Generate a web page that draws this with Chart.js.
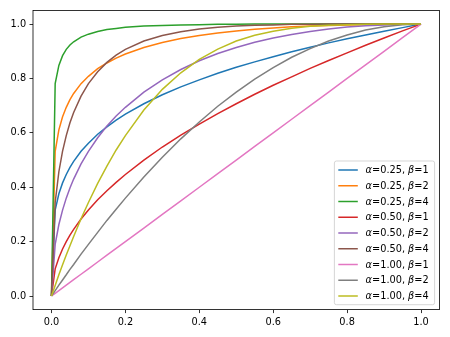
<!DOCTYPE html>
<html>
<head>
<meta charset="utf-8">
<script src="https://cdn.jsdelivr.net/npm/chart.js@4"></script>
<style>
html, body { margin: 0; padding: 0; background: #fff; }
canvas { display: block; }
</style>
</head>
<body>
<canvas id="chart" width="450" height="337"></canvas>
<script>
'use strict';

// x positions shared by every curve
const xValues = [0, 0.01, 0.02, 0.03, 0.04, 0.05, 0.06, 0.08, 0.1, 0.125, 0.15, 0.175, 0.2, 0.25, 0.3, 0.35, 0.4,
    0.45, 0.5, 0.55, 0.6, 0.65, 0.7, 0.75, 0.8, 0.85, 0.9, 0.95, 1];

// one list per curve
const a025b1 = [0, 0.316, 0.376, 0.416, 0.447, 0.473, 0.495, 0.532, 0.562, 0.595, 0.622, 0.647, 0.669, 0.707, 0.740, 0.769, 0.795,
    0.819, 0.841, 0.861, 0.880, 0.898, 0.915, 0.931, 0.946, 0.960, 0.974, 0.987, 1];
const a025b2 = [0, 0.532, 0.611, 0.659, 0.694, 0.722, 0.745, 0.781, 0.808, 0.836, 0.857, 0.875, 0.890, 0.914, 0.932, 0.947, 0.958,
    0.967, 0.975, 0.981, 0.986, 0.990, 0.993, 0.995, 0.997, 0.998, 0.999, 1.000, 1];
const a025b4 = [0, 0.781, 0.848, 0.884, 0.907, 0.923, 0.935, 0.952, 0.963, 0.973, 0.980, 0.984, 0.988, 0.993, 0.995, 0.997, 0.998,
    0.999, 0.999, 1.000, 1.000, 1.000, 1.000, 1.000, 1.000, 1.000, 1.000, 1.000, 1];
const a050b1 = [0, 0.100, 0.141, 0.173, 0.200, 0.224, 0.245, 0.283, 0.316, 0.354, 0.387, 0.418, 0.447, 0.500, 0.548, 0.592, 0.632,
    0.671, 0.707, 0.742, 0.775, 0.806, 0.837, 0.866, 0.894, 0.922, 0.949, 0.975, 1];
const a050b2 = [0, 0.190, 0.263, 0.316, 0.360, 0.397, 0.430, 0.486, 0.532, 0.582, 0.625, 0.662, 0.694, 0.750, 0.795, 0.833, 0.865,
    0.892, 0.914, 0.933, 0.949, 0.962, 0.973, 0.982, 0.989, 0.994, 0.997, 0.999, 1];
const a050b4 = [0, 0.344, 0.457, 0.533, 0.590, 0.637, 0.675, 0.735, 0.781, 0.825, 0.859, 0.886, 0.907, 0.938, 0.958, 0.972, 0.982,
    0.988, 0.993, 0.996, 0.997, 0.999, 0.999, 1.000, 1.000, 1.000, 1.000, 1.000, 1];
const a100b1 = [0, 0.01, 0.02, 0.03, 0.04, 0.05, 0.06, 0.08, 0.1, 0.125, 0.15, 0.175, 0.2, 0.25, 0.3, 0.35, 0.4,
    0.45, 0.5, 0.55, 0.6, 0.65, 0.7, 0.75, 0.8, 0.85, 0.9, 0.95, 1];
const a100b2 = [0, 0.020, 0.040, 0.059, 0.078, 0.098, 0.116, 0.154, 0.190, 0.234, 0.278, 0.319, 0.360, 0.438, 0.510, 0.578, 0.640,
    0.698, 0.750, 0.798, 0.840, 0.878, 0.910, 0.938, 0.960, 0.978, 0.990, 0.998, 1];
const a100b4 = [0, 0.039, 0.078, 0.115, 0.151, 0.185, 0.219, 0.284, 0.344, 0.414, 0.478, 0.537, 0.590, 0.684, 0.760, 0.821, 0.870,
    0.908, 0.938, 0.959, 0.974, 0.985, 0.992, 0.996, 0.998, 0.999, 1.000, 1.000, 1];

const seriesValues = [a025b1, a025b2, a025b4, a050b1, a050b2, a050b4, a100b1, a100b2, a100b4];
const seriesLabels = [
    'α=0.25, β=1', 'α=0.25, β=2', 'α=0.25, β=4',
    'α=0.50, β=1', 'α=0.50, β=2', 'α=0.50, β=4',
    'α=1.00, β=1', 'α=1.00, β=2', 'α=1.00, β=4'
];
const seriesColors = ['#1f77b4', '#ff7f0e', '#2ca02c', '#d62728', '#9467bd', '#8c564b', '#e377c2', '#7f7f7f', '#bcbd22'];
const tickValues = [0, 0.2, 0.4, 0.6, 0.8, 1.0];

const FONT_PX = 9.76;
const FONT_FAMILY = '"DejaVu Sans", sans-serif';

// full black frame around the plot area (matplotlib spines)
const frameBox = {
    id: 'frameBox',
    afterDraw(chart) {
        const { ctx, chartArea: a } = chart;
        ctx.save();
        ctx.strokeStyle = '#000';
        ctx.lineWidth = 0.8;
        ctx.strokeRect(a.left, a.top, a.right - a.left, a.bottom - a.top);
        ctx.restore();
    }
};

// legend drawn inside the axes, lower right, with italic greek letters
const insideLegend = {
    id: 'insideLegend',
    afterDraw(chart) {
        const { ctx, chartArea: a } = chart;
        const pad = 3.9, handleLen = 19.5, textPad = 7.8, rowH = 15.75;
        const normalFont = FONT_PX + 'px ' + FONT_FAMILY;
        const italicFont = 'italic ' + FONT_PX + 'px ' + FONT_FAMILY;

        ctx.save();
        // measure the widest label
        const pieces = seriesLabels.map(l => l.split(/([αβ])/).filter(s => s.length));
        let maxW = 0;
        pieces.forEach(parts => {
            let w = 0;
            parts.forEach(p => {
                ctx.font = (p === 'α' || p === 'β') ? italicFont : normalFont;
                w += ctx.measureText(p).width;
            });
            maxW = Math.max(maxW, w);
        });

        const boxW = pad + handleLen + textPad + maxW + pad + 2;
        const boxH = 9 + rowH * (seriesLabels.length - 1) + 8.7;
        const right = a.right - 4.9;
        const bottom = a.bottom - 4.9;
        const left = right - boxW;
        const top = bottom - boxH;

        ctx.beginPath();
        ctx.roundRect(left, top, boxW, boxH, 2);
        ctx.fillStyle = 'rgba(255,255,255,0.8)';
        ctx.fill();
        ctx.strokeStyle = 'rgba(204,204,204,0.8)';
        ctx.lineWidth = 1;
        ctx.stroke();

        seriesLabels.forEach((label, i) => {
            const y = top + 9 + i * rowH;
            ctx.beginPath();
            ctx.moveTo(left + pad, y);
            ctx.lineTo(left + pad + handleLen, y);
            ctx.strokeStyle = seriesColors[i];
            ctx.lineWidth = 1.5;
            ctx.stroke();

            let x = left + pad + handleLen + textPad;
            ctx.fillStyle = '#000';
            ctx.textBaseline = 'middle';
            ctx.textAlign = 'left';
            pieces[i].forEach(p => {
                ctx.font = (p === 'α' || p === 'β') ? italicFont : normalFont;
                ctx.fillText(p, x, y + 0.5);
                x += ctx.measureText(p).width;
            });
        });
        ctx.restore();
    }
};

const axisCommon = {
    type: 'linear',
    min: -0.05,
    max: 1.05,
    border: { display: false },
    grid: {
        drawOnChartArea: false,
        drawTicks: true,
        tickLength: 3.5,
        tickWidth: 0.8,
        tickColor: '#000'
    },
    ticks: {
        color: '#000',
        padding: 3.4,
        font: { family: FONT_FAMILY, size: FONT_PX },
        callback: v => Number(v).toFixed(1)
    },
    afterBuildTicks: scale => {
        scale.ticks = tickValues.map(v => ({ value: v }));
    }
};

const datasets = seriesValues.map((ys, i) => ({
    label: seriesLabels[i],
    data: xValues.map((x, j) => ({ x: x, y: ys[j] })),
    borderColor: seriesColors[i],
    backgroundColor: seriesColors[i],
    borderWidth: 1.5,
    pointRadius: 0,
    fill: false,
    tension: 0,
    order: seriesValues.length - i
}));

new Chart(document.getElementById('chart').getContext('2d'), {
    type: 'line',
    data: { datasets: datasets },
    options: {
        responsive: false,
        devicePixelRatio: 1,
        animation: false,
        layout: { padding: { top: 10.5, right: 10.5, left: 0, bottom: 0 } },
        plugins: {
            legend: { display: false },
            tooltip: { enabled: false },
            title: { display: false }
        },
        scales: {
            x: {
                ...axisCommon,
                afterFit: scale => { scale.height = 27.4; }
            },
            y: {
                ...axisCommon,
                afterFit: scale => { scale.width = 33; }
            }
        }
    },
    plugins: [frameBox, insideLegend]
});
</script>
</body>
</html>
